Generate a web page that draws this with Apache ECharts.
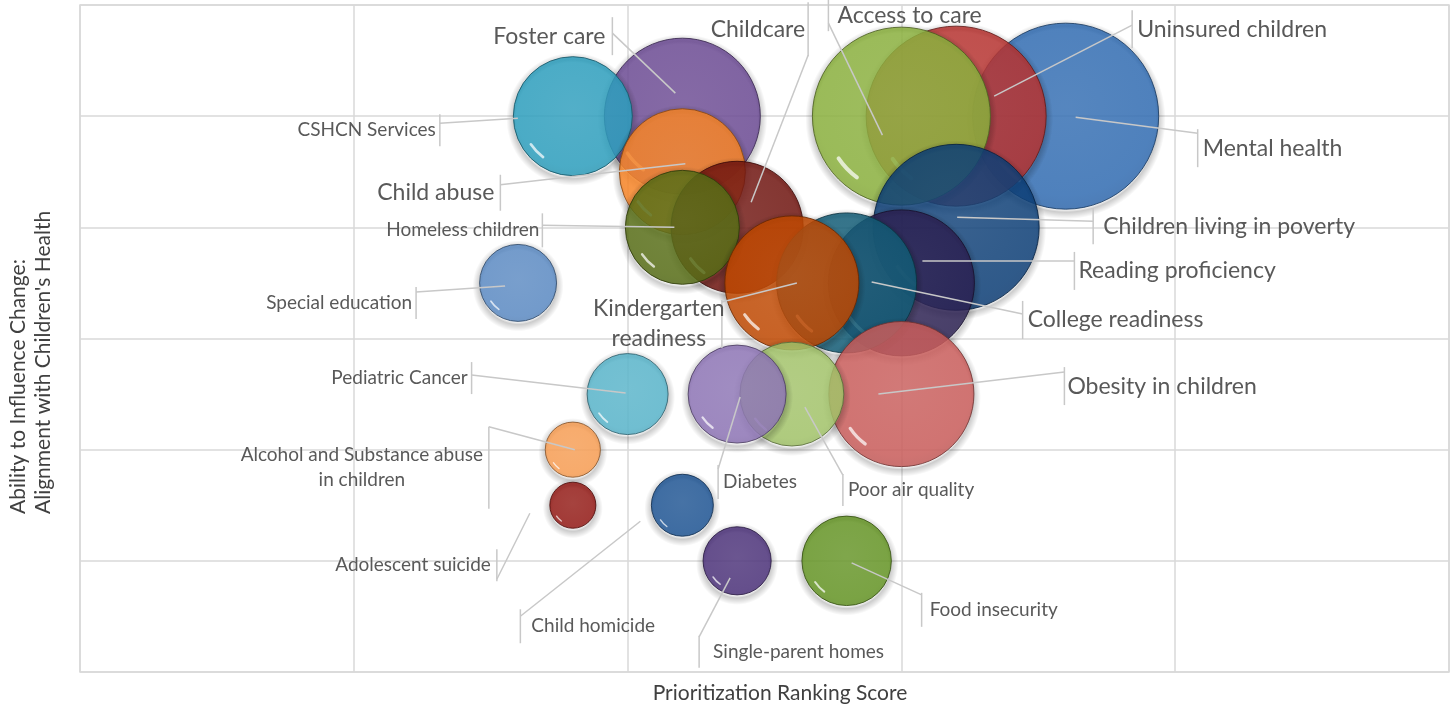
<!DOCTYPE html>
<html>
<head>
<meta charset="utf-8">
<script src="https://cdn.jsdelivr.net/npm/echarts@6/dist/echarts.min.js"></script>
<style>
  html, body { margin: 0; padding: 0; background: #ffffff; }
  #chart { width: 1455px; height: 709px; }
</style>
</head>
<body>
<div id="chart"></div>
<script>
// Children's health priorities: ranking score (x), ability to influence (y), bubble size
const topics = [
  'Mental health', 'Uninsured children', 'Access to care', 'Foster care', 'CSHCN Services',
  'Child abuse', 'Children living in poverty', 'Childcare', 'Homeless children',
  'Reading proficiency', 'College readiness', 'Kindergarten\nreadiness', 'Special education',
  'Obesity in children', 'Poor air quality', 'Diabetes', 'Pediatric Cancer',
  'Alcohol and Substance abuse\nin children', 'Child homicide', 'Adolescent suicide',
  'Food insecurity', 'Single-parent homes'
];
const rankingScore = [36, 32, 30, 22, 18, 22, 32, 24, 22, 30, 28, 26, 16, 30, 26, 24, 20, 18, 22, 18, 28, 24];
const abilityToInfluence = [5, 5, 5, 5, 5, 4.5, 4, 4, 4, 3.5, 3.5, 3.5, 3.5, 2.5, 2.5, 2.5, 2.5, 2, 1.5, 1.5, 1, 1];
const bubbleSize = [86.5, 81, 79.2, 60.8, 35.4, 39.7, 68.9, 43.6, 32.5, 53.3, 49, 44.9, 14.8, 52.6, 27, 24, 16.4, 7.6, 9.6, 5.3, 20, 11.6];

// axis ranges (no tick labels are shown, only the grid)
const xRange = [0, 50, 10];
const yRange = [0, 6, 1];

const xTitle = 'Prioritization Ranking Score';
const yTitleLines = ['Ability to Influence Change:', 'Alignment with Children\'s Health'];

// Office-style palette, one colour per bubble (as seen over white)
const bubbleColors = [
  '#4F81BD', '#C0504D', '#9BBB59', '#8064A2', '#4BACC6', '#F79646',
  '#305A8A', '#843632', '#6F8238', '#4A416A', '#35748A', '#C8630F',
  '#739BCB', '#D07472', '#AFCB7F', '#9D88BF', '#70BED1', '#F7AB6C',
  '#3F6DA2', '#A23B37', '#7AA344', '#654F8C'
];

// Label placement relative to each bubble centre (px):
// bx = leader tick x, ty = text centre y, h = half tick height, ay = where the leader meets the tick,
// ex/ey = leader end inside the bubble, tx = text anchor x, align = text alignment, big = large text
const labelPlacement = [
  { bx: 132, ty: 32, h: 19, ay: 17, ex: 10, ey: 1, tx: 137, align: 'left', big: true },
  { bx: 176, ty: -87, h: 19, ay: -91, ex: 38, ey: -20, tx: 181, align: 'left', big: true },
  { bx: -73, ty: -101, h: 16, ay: -93, ex: -19, ey: 19, tx: -64, align: 'left', big: true },
  { bx: -70, ty: -80, h: 19, ay: -83, ex: -7, ey: -23, tx: -77, align: 'right', big: true },
  { bx: -133, ty: 14, h: 16, ay: 7, ex: -55, ey: 2, tx: -137, align: 'right', big: false },
  { bx: -182, ty: 21, h: 18, ay: 13, ex: 3, ey: -8, tx: -188, align: 'right', big: true },
  { bx: 137, ty: -1, h: 18, ay: -6, ex: 1, ey: -10, tx: 147, align: 'left', big: true },
  { bx: 71, ty: -198, h: 27, ay: -172, ex: 14, ey: -25, tx: 68, align: 'right', big: true },
  { bx: -140, ty: 3, h: 17, ay: -2, ex: -8, ey: 0, tx: -143, align: 'right', big: false },
  { bx: 173, ty: -12, h: 19, ay: -22, ex: 21, ey: -22, tx: 177, align: 'left', big: true },
  { bx: 176, ty: 37, h: 19, ay: 31, ex: 25, ey: -1, tx: 181, align: 'left', big: true },
  { bx: -70, ty: 41, h: 24, ay: 19, ex: 5, ey: 0, tx: -133, align: 'center', big: true },
  { bx: -102, ty: 20, h: 16, ay: 9, ex: -13, ey: 3, tx: -106, align: 'right', big: false },
  { bx: 163, ty: -8, h: 19, ay: -22, ex: -23, ey: 0, tx: 166, align: 'left', big: true },
  { bx: 51, ty: 96, h: 16, ay: 81, ex: 13, ey: 13, tx: 56, align: 'left', big: false },
  { bx: -19, ty: 88, h: 17, ay: 75, ex: 3, ey: 3, tx: -14, align: 'left', big: false },
  { bx: -156, ty: -16, h: 16, ay: -19, ex: -2, ey: -1, tx: -160, align: 'right', big: false },
  { bx: -84, ty: 18, h: 41, ay: -23, ex: 2, ey: 0, tx: -211, align: 'center', big: false },
  { bx: -162, ty: 121, h: 17, ay: 111, ex: -42, ey: 16, tx: -151, align: 'left', big: false },
  { bx: -76, ty: 60, h: 16, ay: 74, ex: -43, ey: 8, tx: -82, align: 'right', big: false },
  { bx: 75, ty: 49, h: 17, ay: 34, ex: 5, ey: 2, tx: 83, align: 'left', big: false },
  { bx: -38, ty: 91, h: 16, ay: 76, ex: -7, ey: 17, tx: -24, align: 'left', big: false }
];

const FILL_ALPHA = 0.85;
const FONT = 'Lato, "Open Sans", sans-serif';

function hexToRgb(hex) {
  const v = parseInt(hex.slice(1), 16);
  return [(v >> 16) & 255, (v >> 8) & 255, v & 255];
}
function rgbStr(c, a) {
  const r = c.map(v => Math.max(0, Math.min(255, Math.round(v))));
  return a == null ? `rgb(${r[0]},${r[1]},${r[2]})` : `rgba(${r[0]},${r[1]},${r[2]},${a})`;
}
// colour that gives the listed tint once drawn semi-transparent over white
function baseColor(hex) {
  return hexToRgb(hex).map(v => Math.max(0, (v - (1 - FILL_ALPHA) * 255) / FILL_ALPHA));
}
function lighten(c, t) { return c.map(v => v + (255 - v) * t); }
function darken(c, t) { return c.map(v => v * (1 - t)); }

// bubble area proportional to size
function bubbleRadius(size) { return 10 * Math.sqrt(size); }

const points = topics.map((t, i) => [rankingScore[i], abilityToInfluence[i], bubbleSize[i], i]);

function renderBubble(params, api) {
  const i = api.value(3);
  const c = api.coord([api.value(0), api.value(1)]);
  const r = bubbleRadius(api.value(2));
  const base = baseColor(bubbleColors[i]);
  const fill = new echarts.graphic.RadialGradient(0.5, 0.45, 0.58, [
    { offset: 0, color: rgbStr(lighten(base, 0.04)) },
    { offset: 0.82, color: rgbStr(base) },
    { offset: 0.95, color: rgbStr(darken(base, 0.04)) },
    { offset: 1, color: rgbStr(lighten(base, 0.12)) }
  ]);
  // soft drop shadow ring, transparent inside so it never tints the bubble
  const sr = r + 7;
  const shadow = new echarts.graphic.RadialGradient(0.5, 0.5, 0.5, [
    { offset: 0, color: 'rgba(0,0,0,0)' },
    { offset: Math.max(0, (r - 3) / sr), color: 'rgba(0,0,0,0)' },
    { offset: r / sr, color: 'rgba(0,0,0,0.2)' },
    { offset: 1, color: 'rgba(0,0,0,0)' }
  ]);
  return {
    type: 'group',
    children: [
      {
        type: 'circle',
        shape: { cx: c[0], cy: c[1] + 3, r: sr },
        style: { fill: shadow }
      },
      {
        type: 'circle',
        shape: { cx: c[0], cy: c[1], r: r },
        style: {
          fill: fill,
          stroke: rgbStr(darken(base, 0.45)),
          lineWidth: 1,
          opacity: FILL_ALPHA
        }
      },
      {
        type: 'arc',
        shape: { cx: c[0], cy: c[1], r: r * 0.85, startAngle: 2.2, endAngle: 2.55, clockwise: true },
        style: {
          fill: null,
          stroke: 'rgba(255,255,255,0.72)',
          lineWidth: Math.max(1.3, r * 0.045),
          lineCap: 'round'
        }
      }
    ]
  };
}

function renderLabel(params, api) {
  const i = api.value(3);
  const c = api.coord([api.value(0), api.value(1)]);
  const p = labelPlacement[i];
  const lineStyle = { stroke: '#C8C8C8', lineWidth: 1.5, fill: null };
  const fontSize = p.big ? 23 : 19;
  return {
    type: 'group',
    children: [
      {
        type: 'polyline',
        shape: { points: [[c[0] + p.ex, c[1] + p.ey], [c[0] + p.bx, c[1] + p.ay]] },
        style: lineStyle
      },
      {
        type: 'line',
        shape: { x1: c[0] + p.bx, y1: c[1] + p.ty - p.h, x2: c[0] + p.bx, y2: c[1] + p.ty + p.h },
        style: lineStyle
      },
      {
        type: 'text',
        x: c[0] + p.tx,
        y: c[1] + p.ty,
        style: {
          text: topics[i],
          fill: '#595959',
          font: `${fontSize}px ${FONT}`,
          lineHeight: p.big ? 30 : 25,
          align: p.align,
          verticalAlign: 'middle'
        }
      }
    ]
  };
}

const GRID = { left: 80, right: 6, top: 5, bottom: 37 };
const titleStyle = { fill: '#404040', font: `21px ${FONT}` };

const chart = echarts.init(document.getElementById('chart'));
chart.setOption({
  animation: false,
  textStyle: { fontFamily: FONT },
  grid: Object.assign({ show: true, borderColor: '#D9D9D9', borderWidth: 1.5 }, GRID),
  xAxis: {
    type: 'value', min: xRange[0], max: xRange[1], interval: xRange[2],
    axisLabel: { show: false }, axisTick: { show: false }, axisLine: { show: false },
    splitLine: { show: true, lineStyle: { color: '#D9D9D9', width: 1.5 } }
  },
  yAxis: {
    type: 'value', min: yRange[0], max: yRange[1], interval: yRange[2],
    axisLabel: { show: false }, axisTick: { show: false }, axisLine: { show: false },
    splitLine: { show: true, lineStyle: { color: '#D9D9D9', width: 1.5 } }
  },
  // axis titles
  graphic: [
    { type: 'text', x: 780, y: 693, silent: true,
      style: Object.assign({ text: xTitle, align: 'center', verticalAlign: 'middle' }, titleStyle) },
    { type: 'text', x: 18, y: 514, rotation: Math.PI / 2, silent: true,
      style: Object.assign({ text: yTitleLines[0], align: 'left', verticalAlign: 'middle' }, titleStyle) },
    { type: 'text', x: 43, y: 514, rotation: Math.PI / 2, silent: true,
      style: Object.assign({ text: yTitleLines[1], align: 'left', verticalAlign: 'middle' }, titleStyle) }
  ],
  series: [
    { type: 'custom', name: 'bubbles', data: points, encode: { x: 0, y: 1 }, renderItem: renderBubble, z: 2, silent: true },
    { type: 'custom', name: 'labels', data: points, encode: { x: 0, y: 1 }, renderItem: renderLabel, z: 3, silent: true }
  ]
});
</script>
</body>
</html>
